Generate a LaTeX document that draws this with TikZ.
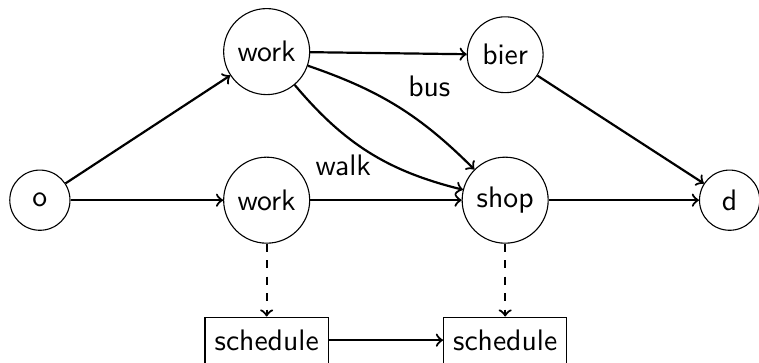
\documentclass[tikz,border=0pt]{standalone}
\usepackage{fontspec}
\usetikzlibrary{arrows}
\begin{document}
\begin{tikzpicture}[>=to,font=\sffamily\fontsize{10.8}{13}\selectfont,
    place/.style={draw,circle,thin,inner sep=3pt},
    sched/.style={draw,rectangle,thin,inner sep=3.5pt,minimum height=0.59cm},
    link/.style={->,thick}]
	  \useasboundingbox (0,0) rectangle (9.706,-4.642);
	  \node[place,minimum size=0.77cm] (o) at (0.51,-2.56) {o};
	  \node[place,minimum size=1.1cm] (w1) at (3.41,-0.66) {work};
	  \node[place,minimum size=1.1cm] (w2) at (3.41,-2.56) {work};
	  \node[place,minimum size=0.97cm] (b) at (6.46,-0.70) {bier};
	  \node[place,minimum size=1.1cm] (s) at (6.46,-2.56) {shop};
	  \node[place,minimum size=0.77cm] (d) at (9.33,-2.56) {d};
	  \node[sched] (c1) at (3.41,-4.35) {schedule};
	  \node[sched] (c2) at (6.46,-4.35) {schedule};
	  \node (bus) at (5.49,-1.11) {bus};
	  \node (walk) at (4.39,-2.11) {walk};
	  \draw[link] (o) -- (w1);
	  \draw[link] (o) -- (w2);
	  \draw[link] (w1) -- (b);
	  \draw[link] (w1) to[bend left=13] (s);
	  \draw[link] (w1) to[bend right=18] (s);
	  \draw[link] (w2) -- (s);
	  \draw[link] (b) -- (d);
	  \draw[link] (s) -- (d);
	  \draw[link,dashed] (w2) -- (c1);
	  \draw[link,dashed] (s) -- (c2);
	  \draw[link] (c1) -- (c2);
	\end{tikzpicture}
\end{document}
